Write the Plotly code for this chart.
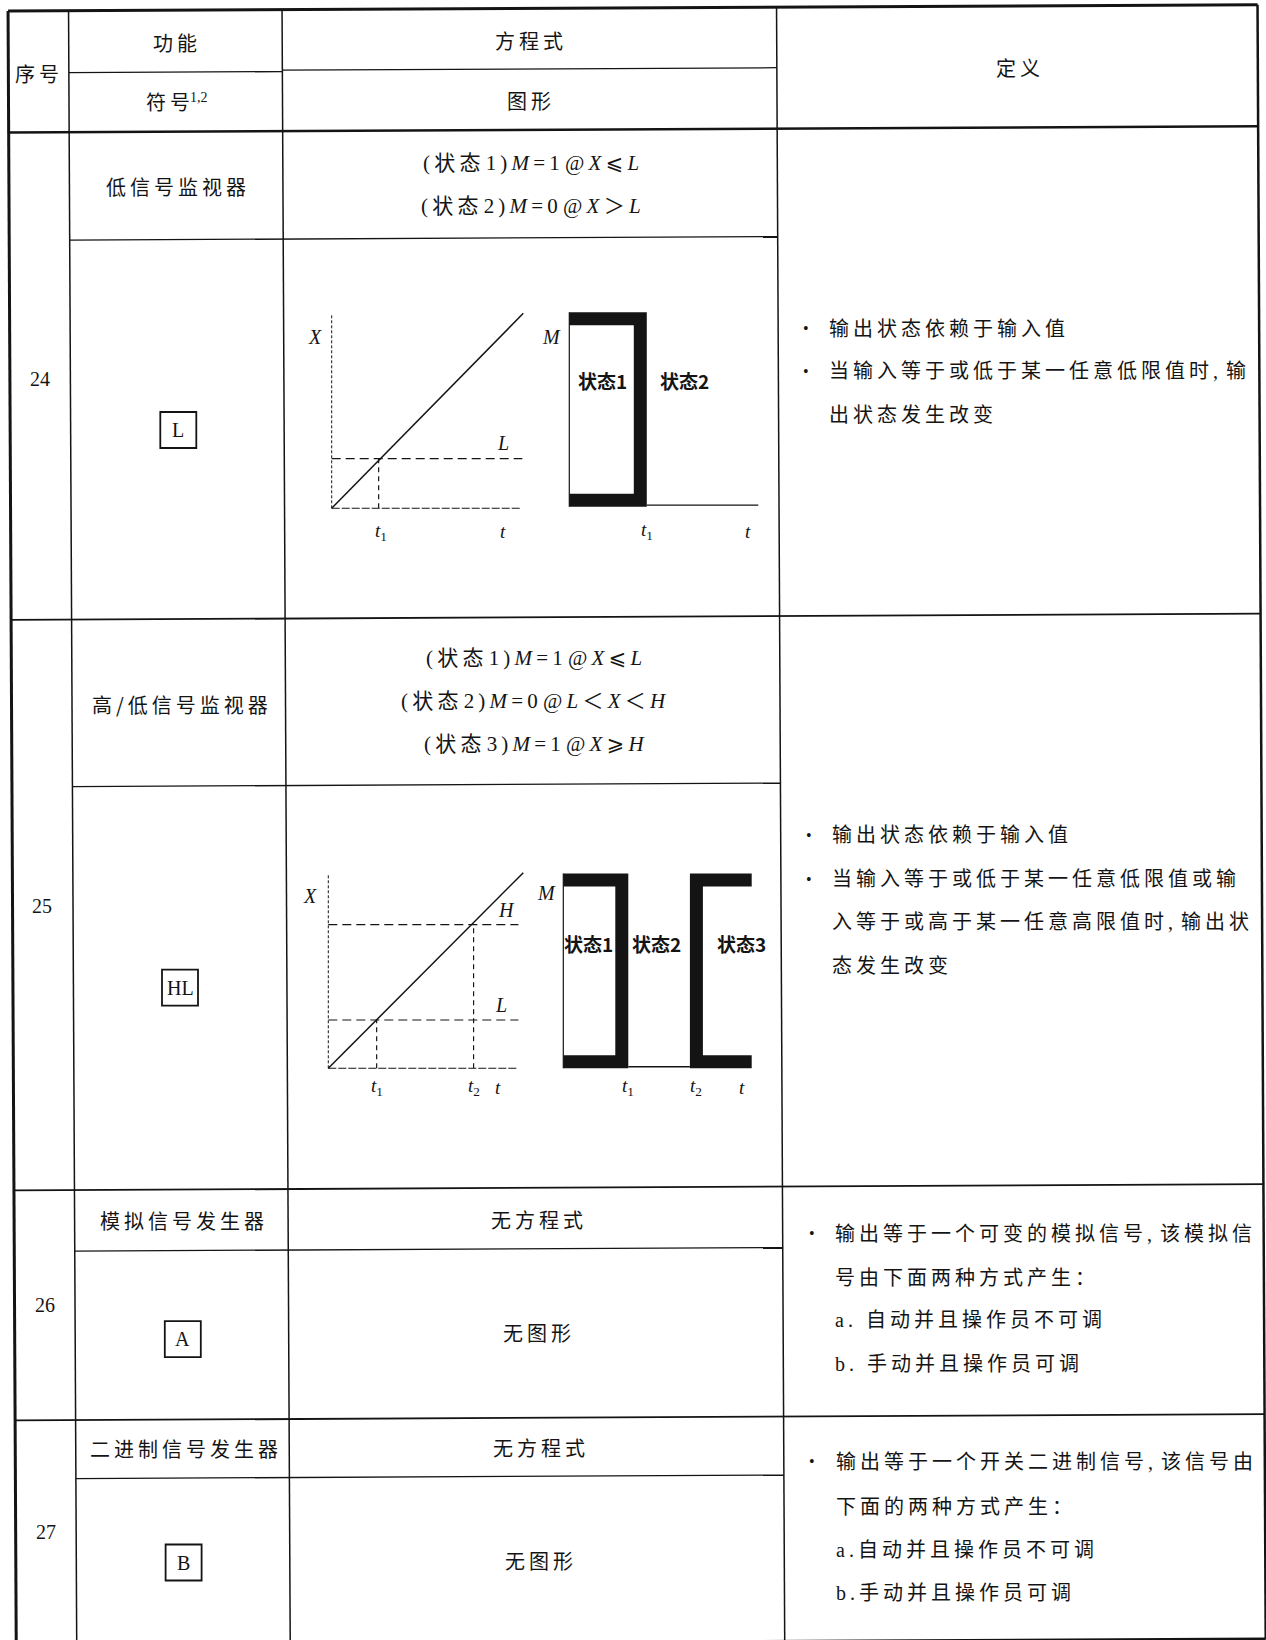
import plotly.graph_objects as go

W, H = 1266, 1640
CJK = "Noto Sans CJK SC"
SERIF = "Liberation Serif"
MIX = "Liberation Serif, Noto Sans CJK SC, DejaVu Sans"
INK = "#141414"
THIN = "\u2009"

# ---------------- chart content ----------------
header_top = ["序号", "功能", "方程式", "定义"]
header_bottom = ["符号", "图形"]
header_note = "1,2"
row_ids = ["24", "25", "26", "27"]
functions = ["低信号监视器", "高/低信号监视器", "模拟信号发生器", "二进制信号发生器"]
symbols = ["L", "HL", "A", "B"]
equations = [
    ["(状态 1)<i>M</i>=1 @<i>X</i>⩽<i>L</i>",
     "(状态 2)<i>M</i>=0 @<i>X</i>＞<i>L</i>"],
    ["(状态 1)<i>M</i>=1 @<i>X</i>⩽<i>L</i>",
     "(状态 2)<i>M</i>=0 @<i>L</i>＜<i>X</i>＜<i>H</i>",
     "(状态 3)<i>M</i>=1 @<i>X</i>⩾<i>H</i>"],
    ["无方程式"],
    ["无方程式"],
]
graphics = ["", "", "无图形", "无图形"]
definitions = [
    [("•", "输出状态依赖于输入值"),
     ("•", "当输入等于或低于某一任意低限值时,输"),
     ("", "出状态发生改变")],
    [("•", "输出状态依赖于输入值"),
     ("•", "当输入等于或低于某一任意低限值或输"),
     ("", "入等于或高于某一任意高限值时,输出状"),
     ("", "态发生改变")],
    [("•", "输出等于一个可变的模拟信号,该模拟信"),
     ("", "号由下面两种方式产生："),
     ("", "a. 自动并且操作员不可调"),
     ("", "b. 手动并且操作员可调")],
    [("•", "输出等于一个开关二进制信号,该信号由"),
     ("", "下面的两种方式产生："),
     ("", "a.自动并且操作员不可调"),
     ("", "b.手动并且操作员可调")],
]
state_labels = ["状态1", "状态2", "状态3"]

# diagram values (row 24: low monitor, row 25: high/low monitor)
ramp_t = [0, 10]
ramp_x = [0, 10]
low_24 = 2.55
t1_24 = 2.45
step24_t1 = 4.1
low_25 = 2.47
high_25 = 7.35
t1_25 = 2.48
t2_25 = 7.45
step25_t1 = 3.45
step25_t2 = 6.72
t_end = 10

# ---------------- layout geometry ----------------
SKEW = 0.005
col_top_x = [8, 68.5, 282, 776.5, 1257.5]
col_w = [3, 1.5, 1.5, 1.5, 2.5]
rules = [
    (11, 0, 4, 3),
    (73, 1, 2, 1.3), (71.6, 2, 3, 1.3),
    (132.5, 0, 4, 2.5),
    (240.5, 1, 3, 1.3), (620, 0, 4, 1.8),
    (787, 1, 3, 1.3), (1190.5, 0, 4, 1.8),
    (1251.5, 1, 3, 1.3), (1420.5, 0, 4, 1.8),
    (1479, 1, 3, 1.3), (1645.3, 0, 4, 3),
]
TOP_Y, BOT_Y = 11, 1645.3

id_pos = [(39.8, 378.8), (41.9, 906), (45, 1304.7), (46, 1532)]
func_pos = [(175.8, 186.2), (180, 704), (182, 1220), (184, 1448)]
sym_pos = [(178.3, 430), (180, 987.7), (182.8, 1339.2), (183.6, 1562.5)]
BOX = 36
eq_x = [530.5, 534, 536.7, 538.8]
eq_y = [[163, 206], [658, 701, 744], [1219], [1447]]
gfx_pos = [None, None, (536.7, 1332), (538.8, 1560)]
def_bullet_x = [805.6, 808.8, 812, 812]
def_text_x = [826.6, 829.7, 833, 834]
def_y = [[328.5, 371.4, 415.4], [835, 879, 921.8, 965.7],
         [1233.6, 1277.5, 1320.4, 1364.4], [1461.7, 1506.7, 1549.6, 1592.5]]


def spaced(s):
    return THIN.join(s).replace(",", "," + THIN)


def spaced_html(s):
    out, i, prev = [], 0, None
    while i < len(s):
        if s[i] == "<":
            j = s.index(">", i)
            out.append(s[i:j + 1])
            i = j + 1
            continue
        if prev is not None and prev != " " and s[i] != " ":
            out.append(THIN)
        out.append(s[i])
        prev = s[i]
        i += 1
    return "".join(out)


fig = go.Figure()
annotations = []
shapes = []
axes = {}


def text(x, y, s, size=20, family=CJK, xanchor="center", xref="x", yref="y", xshift=0):
    annotations.append(dict(x=x, y=y, xref=xref, yref=yref, text=s, showarrow=False,
                            xanchor=xanchor, yanchor="middle", xshift=xshift,
                            font=dict(size=size, family=family, color=INK)))


def line(xs, ys, width=1.3, dash=None, n="", color=INK):
    fig.add_trace(go.Scatter(x=xs, y=ys, mode="lines", xaxis="x" + n, yaxis="y" + n,
                             line=dict(color=color, width=width, dash=dash),
                             hoverinfo="skip", showlegend=False))


# ---------------- table rules ----------------
by_width = {}
for yl, a, b, w in rules:
    xa = col_top_x[a] + SKEW * yl
    xb = col_top_x[b] + SKEW * yl
    by_width.setdefault(w, ([], []))
    by_width[w][0].extend([xa, xb, None])
    by_width[w][1].extend([yl - SKEW * xa, yl - SKEW * xb, None])
for xt, w in zip(col_top_x, col_w):
    y0 = TOP_Y - SKEW * xt
    y1 = BOT_Y - SKEW * xt
    by_width.setdefault(w, ([], []))
    by_width[w][0].extend([xt + SKEW * y0, xt + SKEW * y1, None])
    by_width[w][1].extend([y0, y1, None])
for w, (xs, ys) in by_width.items():
    line(xs, ys, width=w)

# ---------------- header ----------------
text(36.6, 73, spaced(header_top[0]))
text(174.7, 42, spaced(header_top[1]))
text(529, 40, spaced(header_top[2]))
text(1018, 67, spaced(header_top[3]))
text(176.7, 101.5, spaced(header_bottom[0]) + "<sup>" + header_note + "</sup>", family=MIX)
text(529, 100.4, spaced(header_bottom[1]))

# ---------------- rows ----------------
for i in range(4):
    text(*id_pos[i], row_ids[i], size=20, family=SERIF)
    text(*func_pos[i], spaced(functions[i]))
    cx, cy = sym_pos[i]
    shapes.append(dict(type="rect", xref="x", yref="y", x0=cx - BOX / 2, x1=cx + BOX / 2,
                       y0=cy - BOX / 2, y1=cy + BOX / 2, line=dict(color=INK, width=1.8)))
    text(cx, cy, symbols[i], size=20, family=SERIF)
    for s, y in zip(equations[i], eq_y[i]):
        if "<i>" in s:
            text(eq_x[i], y, spaced_html(s), size=21, family=MIX)
        else:
            text(eq_x[i], y, spaced(s))
    if gfx_pos[i]:
        text(*gfx_pos[i], spaced(graphics[i]))
    for (bullet, s), y in zip(definitions[i], def_y[i]):
        if bullet:
            text(def_bullet_x[i], y, bullet, size=16, family=SERIF)
        text(def_text_x[i], y, spaced(s), family=MIX, xanchor="left")


# ---------------- diagram panels ----------------
def panel(n, ox, oy, sx, sy, xr, yr):
    x0, x1 = ox + xr[0] * sx, ox + xr[1] * sx
    ytop, ybot = oy - yr[1] * sy, oy - yr[0] * sy
    axes[f"xaxis{n}"] = dict(domain=[x0 / W, x1 / W], range=list(xr), anchor=f"y{n}",
                             visible=False, fixedrange=True)
    axes[f"yaxis{n}"] = dict(domain=[1 - ybot / H, 1 - ytop / H], range=list(yr),
                             anchor=f"x{n}", visible=False, fixedrange=True)
    return sx, sy


def bracket(n, a, b, side, sx, sy, thick=13):
    tx, ty = thick / sx, thick / sy
    if side == "right":
        xs = [a, b, b, a, a, b - tx, b - tx, a, a]
    else:
        xs = [b, a, a, b, b, a + tx, a + tx, b, b]
    ys = [1, 1, 0, 0, ty, ty, 1 - ty, 1 - ty, 1]
    fig.add_trace(go.Scatter(x=xs, y=ys, mode="lines", fill="toself", fillcolor=INK,
                             line=dict(width=0, color=INK), xaxis="x" + n, yaxis="y" + n,
                             hoverinfo="skip", showlegend=False))


AX_DASH = "3px,2px"
LIM_DASH = "9px,5px"
VT_DASH = "5px,4px"
IT = lambda s: f"<i>{s}</i>"
B = lambda s: f"<b>{s}</b>"


def tlabel(n, x, y, sub, xshift=0):
    s = IT("t") + (f"<sub>{sub}</sub>" if sub else "")
    text(x, y, s, size=19, family=SERIF, xref="x" + n, yref="y" + n, xshift=xshift)


# row 24, input panel
panel("2", 331.7, 508.3, 19.16, 19.5, (-2, 11), (-2, 11))
line([0, 0], [0, 10], width=1, dash=AX_DASH, n="2")
line([0, 9.9], [0, 0], width=1.1, dash="8px,2px", n="2")
line(ramp_t, ramp_x, width=1.5, n="2")
line([0, 9.95], [low_24, low_24], width=1.2, dash=LIM_DASH, n="2")
line([t1_24, t1_24], [0, low_24], width=1.2, dash=VT_DASH, n="2")
text(-0.87, 8.8, IT("X"), size=20, family=SERIF, xref="x2", yref="y2")
text(8.94, 3.35, IT("L"), size=20, family=SERIF, xref="x2", yref="y2")
tlabel("2", t1_24, -1.2, "1", xshift=2)
tlabel("2", 8.92, -1.2, "")

# row 24, output panel
sx, sy = panel("3", 569.3, 506.7, 18.9, 194.4, (-2, 11), (-0.2, 1.15))
line([0, 0], [0, 1], width=1.2, n="3")
line([step24_t1, t_end], [0.008, 0.008], width=1.3, n="3")
bracket("3", 0, step24_t1, "right", sx, sy)
text(-0.93, 0.875, IT("M"), size=20, family=SERIF, xref="x3", yref="y3")
text(1.78, 0.65, B(state_labels[0]), size=19, xref="x3", yref="y3")
text(6.12, 0.65, B(state_labels[1]), size=19, xref="x3", yref="y3")
tlabel("3", step24_t1, -0.125, "1")
tlabel("3", 9.47, -0.125, "")

# row 25, input panel
panel("4", 328.3, 1068.3, 19.5, 19.56, (-2, 11), (-2, 11))
line([0, 0], [0, 9.9], width=1, dash=AX_DASH, n="4")
line([0, 9.66], [0, 0], width=1.1, dash="8px,2px", n="4")
line(ramp_t, ramp_x, width=1.5, n="4")
line([0, 9.75], [low_25, low_25], width=1.2, dash=LIM_DASH, n="4")
line([0, 9.75], [high_25, high_25], width=1.2, dash=LIM_DASH, n="4")
line([t1_25, t1_25], [0, low_25], width=1.2, dash=VT_DASH, n="4")
line([t2_25, t2_25], [0, high_25], width=1.2, dash=VT_DASH, n="4")
text(-0.94, 8.8, IT("X"), size=20, family=SERIF, xref="x4", yref="y4")
text(9.15, 8.1, IT("H"), size=20, family=SERIF, xref="x4", yref="y4")
text(8.86, 3.24, IT("L"), size=20, family=SERIF, xref="x4", yref="y4")
tlabel("4", t1_25, -0.96, "1")
tlabel("4", t2_25, -0.96, "2")
tlabel("4", 8.7, -0.96, "")

# row 25, output panel
sx, sy = panel("5", 563.3, 1068.3, 18.84, 194.8, (-2, 11), (-0.2, 1.15))
line([0, 0], [0, 1], width=1.2, n="5")
line([step25_t1, step25_t2], [0.008, 0.008], width=1.3, n="5")
bracket("5", 0, step25_t1, "right", sx, sy)
bracket("5", step25_t2, t_end, "left", sx, sy)
text(-0.88, 0.9, IT("M"), size=20, family=SERIF, xref="x5", yref="y5")
text(1.33, 0.64, B(state_labels[0]), size=19, xref="x5", yref="y5")
text(4.96, 0.64, B(state_labels[1]), size=19, xref="x5", yref="y5")
text(9.47, 0.64, B(state_labels[2]), size=19, xref="x5", yref="y5")
tlabel("5", step25_t1, -0.096, "1")
tlabel("5", step25_t2, -0.096, "2", xshift=6)
tlabel("5", 9.47, -0.096, "")

fig.update_layout(
    width=W, height=H,
    margin=dict(l=0, r=0, t=0, b=0),
    paper_bgcolor="white", plot_bgcolor="rgba(0,0,0,0)",
    xaxis=dict(domain=[0, 1], range=[0, W], visible=False, fixedrange=True),
    yaxis=dict(domain=[0, 1], range=[H, 0], visible=False, fixedrange=True),
    annotations=annotations,
    shapes=shapes,
    showlegend=False,
    **axes,
)

fig.write_html("out.html", config={"displayModeBar": False, "staticPlot": True},
               post_script="document.body.style.margin='0px';document.body.style.overflow='hidden';")
